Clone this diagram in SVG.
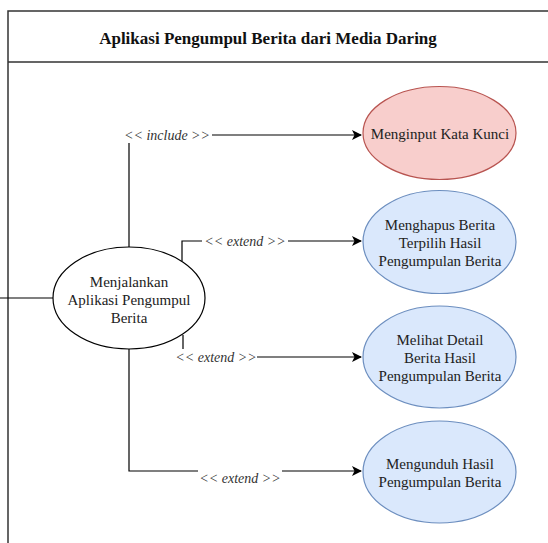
<svg xmlns="http://www.w3.org/2000/svg" width="548" height="543" viewBox="0 0 548 543" font-family="'Liberation Serif', 'Times New Roman', 'DejaVu Serif', serif">
<style>
.frame{fill:none;stroke:#333;stroke-width:1.5}
.edge{fill:none;stroke:#000;stroke-width:1.2}
.uc{stroke:#000;stroke-width:1.2;fill:#fff}
.red{fill:#f8cecc;stroke:#b85450;stroke-width:1.2}
.blue{fill:#dae8fc;stroke:#6c8ebf;stroke-width:1.2}
.t{font-size:15px;fill:#222;text-anchor:middle;dominant-baseline:central}
.lbl{font-size:14px;font-style:italic;fill:#333;text-anchor:middle;dominant-baseline:central}
.title{font-size:17px;font-weight:bold;fill:#111;text-anchor:middle;dominant-baseline:central}
</style>
<defs>
<marker id="arr" markerWidth="10" markerHeight="10" refX="9" refY="5" orient="auto" markerUnits="userSpaceOnUse">
<path d="M0,0 L10,5 L0,10 L2.5,5 Z" fill="#000"/>
</marker>
</defs>
<rect width="548" height="543" fill="#fff"/>
<g id="frame">
<path class="frame" d="M548,11 H8 V543 M8,62 H548"/>
<text class="title" x="268" y="38">Aplikasi Pengumpul Berita dari Media Daring</text>
</g>
<g id="connectors">
<path class="edge" d="M0,298 H53"/>
<path class="edge" d="M129,247 V135 H361" marker-end="url(#arr)"/>
<path class="edge" d="M182,261 V241 H361" marker-end="url(#arr)"/>
<path class="edge" d="M183,335 V357 H361" marker-end="url(#arr)"/>
<path class="edge" d="M129,349 V471 H361" marker-end="url(#arr)"/>
<rect x="122" y="127" width="90" height="16" fill="#fff"/>
<text class="lbl" x="167" y="135">&lt;&lt; include &gt;&gt;</text>
<rect x="202" y="234" width="86" height="15" fill="#fff"/>
<text class="lbl" x="245" y="241">&lt;&lt; extend &gt;&gt;</text>
<rect x="175" y="349" width="82" height="15" fill="#fff"/>
<text class="lbl" x="216" y="357">&lt;&lt; extend &gt;&gt;</text>
<rect x="198" y="470" width="84" height="16" fill="#fff"/>
<text class="lbl" x="240" y="478">&lt;&lt; extend &gt;&gt;</text>
</g>
<g id="uc-main">
<ellipse class="uc" cx="129" cy="298" rx="76" ry="51"/>
<text class="t" x="129" y="282">Menjalankan</text>
<text class="t" x="129" y="300">Aplikasi Pengumpul</text>
<text class="t" x="129" y="318">Berita</text>
</g>
<g id="uc-input">
<ellipse class="red" cx="439.5" cy="133" rx="76.5" ry="46.5"/>
<text class="t" x="440" y="134">Menginput Kata Kunci</text>
</g>
<g id="uc-hapus">
<ellipse class="blue" cx="439.5" cy="242" rx="76.5" ry="51.5"/>
<text class="t" x="440" y="225">Menghapus Berita</text>
<text class="t" x="440" y="243">Terpilih Hasil</text>
<text class="t" x="440" y="261">Pengumpulan Berita</text>
</g>
<g id="uc-detail">
<ellipse class="blue" cx="439.5" cy="357" rx="76.5" ry="51"/>
<text class="t" x="440" y="340">Melihat Detail</text>
<text class="t" x="440" y="358">Berita Hasil</text>
<text class="t" x="440" y="376">Pengumpulan Berita</text>
</g>
<g id="uc-unduh">
<ellipse class="blue" cx="439.5" cy="472" rx="76.5" ry="51"/>
<text class="t" x="440" y="464">Mengunduh Hasil</text>
<text class="t" x="440" y="482">Pengumpulan Berita</text>
</g>
</svg>
